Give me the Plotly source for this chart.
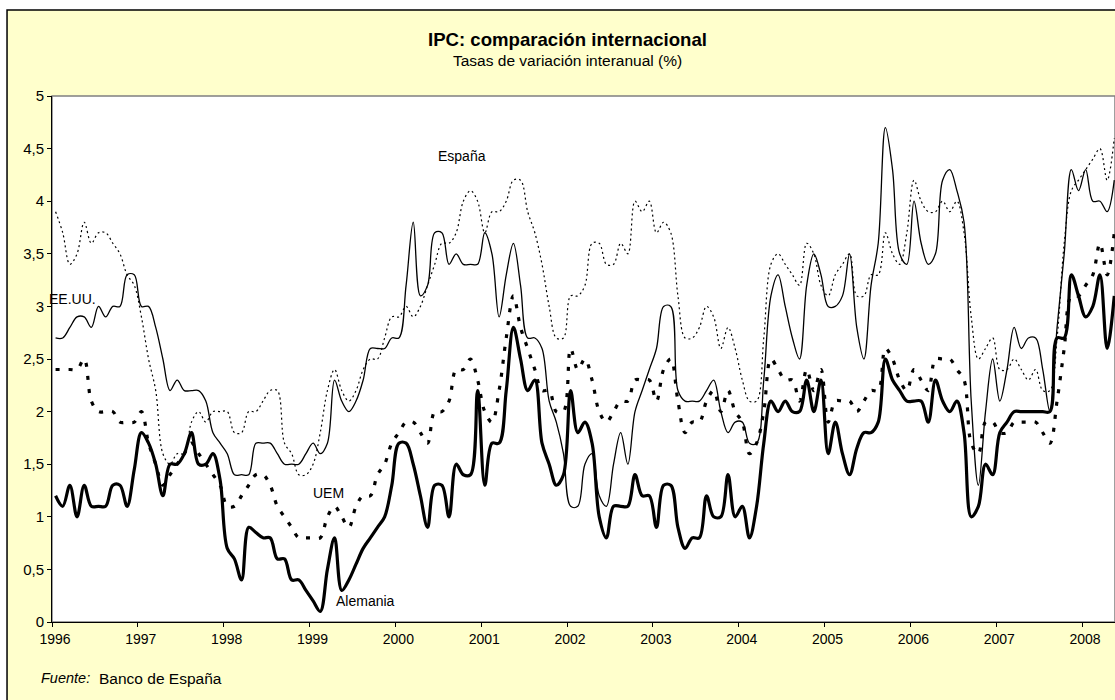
import plotly.graph_objects as go

# meses: enero 1996 .. mayo 2008
anios = list(range(1996, 2009))
meses = [f"{a}-{m:02d}" for a in anios for m in range(1, 13)][:149]
x = list(range(len(meses)))

espana = [
    3.9, 3.7, 3.4, 3.5, 3.8, 3.6, 3.7, 3.7, 3.6, 3.5, 3.3, 3.2,
    2.9, 2.5, 2.2, 1.6, 1.5, 1.6, 1.6, 1.9, 2.0, 1.9, 2.0, 2.0,
    2.0, 1.8, 1.8, 2.0, 2.0, 2.1, 2.2, 2.2, 1.7, 1.6, 1.4, 1.4,
    1.5, 1.8, 2.2, 2.4, 2.2, 2.1, 2.2, 2.4, 2.5, 2.5, 2.7, 2.9,
    2.9, 3.0, 2.9, 3.0, 3.2, 3.4, 3.6, 3.6, 3.7, 4.0, 4.1, 4.0,
    3.7, 3.9, 3.9, 4.0, 4.2, 4.2, 3.9, 3.7, 3.4, 3.0, 2.7, 2.7,
    3.1, 3.1, 3.2, 3.6, 3.6, 3.4, 3.4, 3.6, 3.5, 4.0, 3.9, 4.0,
    3.7, 3.8, 3.7, 3.1, 2.7, 2.7, 2.8, 3.0, 2.9, 2.6, 2.8, 2.6,
    2.3, 2.1, 2.1, 2.7, 3.4, 3.5, 3.4, 3.3, 3.2, 3.6, 3.5, 3.2,
    3.1, 3.3, 3.4, 3.5, 3.1, 3.1, 3.3, 3.3, 3.7, 3.5, 3.4, 3.7,
    4.2, 4.0, 3.9, 3.9, 4.0, 3.9, 4.0, 3.7, 2.9, 2.5, 2.6, 2.7,
    2.4, 2.4, 2.5, 2.4, 2.3, 2.4, 2.2, 2.2, 2.7, 3.6, 4.1, 4.2,
    4.3, 4.4, 4.5, 4.2, 4.6,
]

eeuu = [
    2.7, 2.7, 2.8, 2.9, 2.9, 2.8, 3.0, 2.9, 3.0, 3.0, 3.3, 3.3,
    3.0, 3.0, 2.8, 2.5, 2.2, 2.3, 2.2, 2.2, 2.2, 2.1, 1.8, 1.7,
    1.6, 1.4, 1.4, 1.4, 1.7, 1.7, 1.7, 1.6, 1.5, 1.5, 1.5, 1.6,
    1.7, 1.6, 1.7, 2.3, 2.1, 2.0, 2.1, 2.3, 2.6, 2.6, 2.6, 2.7,
    2.7, 3.2, 3.8, 3.1, 3.2, 3.7, 3.7, 3.4, 3.5, 3.4, 3.4, 3.4,
    3.7, 3.5, 2.9, 3.3, 3.6, 3.2, 2.7, 2.7, 2.6, 2.1, 1.9, 1.6,
    1.1, 1.1, 1.5, 1.6, 1.2, 1.1, 1.5, 1.8, 1.5, 2.0, 2.2, 2.4,
    2.6, 3.0, 3.0, 2.2, 2.1, 2.1, 2.1, 2.2, 2.3, 2.0, 1.8, 1.9,
    1.9, 1.7, 1.7, 2.3, 3.1, 3.3, 3.0, 2.7, 2.5, 3.2, 3.5, 3.3,
    3.0, 3.0, 3.1, 3.5, 2.8, 2.5, 3.2, 3.6, 4.7, 4.3, 3.5, 3.4,
    4.0, 3.6, 3.4, 3.5, 4.2, 4.3, 4.1, 3.8, 2.1, 1.3, 2.0, 2.5,
    2.1, 2.4, 2.8, 2.6, 2.7, 2.7, 2.4, 2.0, 2.8, 3.5, 4.3, 4.1,
    4.3, 4.0, 4.0, 3.9, 4.2,
]

uem = [
    2.4, 2.4, 2.4, 2.4, 2.5, 2.1, 2.0, 2.0, 2.0, 1.9, 1.9, 1.9,
    2.0, 1.7, 1.5, 1.3, 1.4, 1.5, 1.6, 1.7, 1.6, 1.5, 1.4, 1.3,
    1.1, 1.1, 1.2, 1.3, 1.4, 1.4, 1.3, 1.1, 1.0, 0.9, 0.8, 0.8,
    0.8, 0.8, 1.0, 1.1, 1.0, 0.9, 1.1, 1.2, 1.2, 1.4, 1.5, 1.7,
    1.8, 1.9, 1.9, 1.8, 1.7, 2.0, 2.0, 2.1, 2.4, 2.4, 2.5, 2.3,
    2.0, 1.9, 2.2, 2.7, 3.1, 2.8, 2.6, 2.4, 2.2, 2.2, 2.0, 2.0,
    2.6, 2.4, 2.5, 2.3, 2.0, 1.9, 2.0, 2.1, 2.1, 2.3, 2.3, 2.3,
    2.1, 2.4, 2.5, 2.1, 1.8, 1.9, 1.9, 2.1, 2.2, 2.0, 2.2, 2.0,
    1.9, 1.6, 1.7, 2.0, 2.5, 2.4, 2.3, 2.3, 2.1, 2.4, 2.2, 2.4,
    1.9, 2.1, 2.1, 2.1, 2.0, 2.1, 2.2, 2.2, 2.6, 2.5, 2.3, 2.2,
    2.4, 2.3, 2.2, 2.5, 2.5, 2.5, 2.4, 2.3, 1.7, 1.6, 1.9, 1.9,
    1.8, 1.8, 1.9, 1.9, 1.9, 1.9, 1.8, 1.7, 2.1, 2.6, 3.1, 3.1,
    3.2, 3.3, 3.6, 3.3, 3.7,
]

alemania = [
    1.2, 1.1, 1.3, 1.0, 1.3, 1.1, 1.1, 1.1, 1.3, 1.3, 1.1, 1.45,
    1.8, 1.7, 1.5, 1.2, 1.5, 1.5, 1.6, 1.8, 1.5, 1.5, 1.6, 1.35,
    0.7, 0.6, 0.4, 0.9, 0.85, 0.8, 0.8, 0.6, 0.6, 0.4, 0.4, 0.3,
    0.2, 0.1, 0.5, 0.8, 0.3, 0.4, 0.55, 0.7, 0.8, 0.9, 1.0, 1.3,
    1.7, 1.7, 1.5, 1.2, 0.9, 1.3, 1.3, 1.0, 1.5, 1.4, 1.4, 2.2,
    1.3, 1.7, 1.7, 2.2, 2.8, 2.5, 2.2, 2.3, 1.7, 1.5, 1.3, 1.4,
    2.2, 1.8, 1.9, 1.7, 1.0, 0.8, 1.1, 1.1, 1.1, 1.4, 1.2, 1.2,
    0.9, 1.3, 1.3, 0.9, 0.7, 0.8, 0.8, 1.2, 1.0, 1.0, 1.4, 1.0,
    1.1, 0.8, 1.1, 1.7, 2.1, 2.0, 2.1, 2.0, 2.0, 2.3, 2.0, 2.3,
    1.6, 1.9, 1.6, 1.4, 1.65, 1.8, 1.8, 1.9, 2.5, 2.3, 2.2, 2.1,
    2.1, 2.1, 1.9, 2.3, 2.1, 2.0, 2.1, 1.8, 1.0, 1.1, 1.5, 1.4,
    1.8, 1.9, 2.0, 2.0, 2.0, 2.0, 2.0, 2.0, 2.7, 2.7, 3.3, 3.1,
    2.9, 3.0, 3.3, 2.6, 3.1,
]

y_ticks = [0, 0.5, 1, 1.5, 2, 2.5, 3, 3.5, 4, 4.5, 5]
y_labels = ["0", "0,5", "1", "1,5", "2", "2,5", "3", "3,5", "4", "4,5", "5"]
x_ticks = [12 * i - 0.5 for i in range(len(anios))]
x_labels = [str(a) for a in anios]

fuente = "Liberation Sans, Arial, sans-serif"

fig = go.Figure()
fig.add_trace(go.Scatter(x=x, y=espana, name="España", mode="lines",
                         line=dict(color="black", width=1.2, dash="2px,3px",
                                   shape="spline", smoothing=1)))
fig.add_trace(go.Scatter(x=x, y=eeuu, name="EE.UU.", mode="lines",
                         line=dict(color="black", width=1.3,
                                   shape="spline", smoothing=1)))
fig.add_trace(go.Scatter(x=x, y=uem, name="UEM", mode="lines",
                         line=dict(color="black", width=3.2, dash="4px,9px",
                                   shape="spline", smoothing=1)))
fig.add_trace(go.Scatter(x=x, y=alemania, name="Alemania", mode="lines",
                         line=dict(color="black", width=3.2,
                                   shape="spline", smoothing=1)))

# caja amarilla exterior (cortada abajo y a la derecha) y fondo blanco del grafico
fig.add_shape(type="rect", xref="paper", yref="paper",
              x0=-0.0423, x1=1.05, y0=-0.2, y1=1.1635,
              fillcolor="#FFFFCC", line=dict(color="black", width=1.5),
              layer="below")
fig.add_shape(type="rect", xref="paper", yref="paper",
              x0=0, x1=1, y0=0, y1=1,
              fillcolor="white", line=dict(color="#808080", width=1.5),
              layer="below")

etiquetas = [
    ("España", 56.8, 4.43),
    ("EE.UU.", 2.4, 3.07),
    ("UEM", 38.1, 1.23),
    ("Alemania", 43.3, 0.2),
]
for texto, xx, yy in etiquetas:
    fig.add_annotation(x=xx, y=yy, text=texto, showarrow=False,
                       font=dict(size=14, color="black", family=fuente))

fig.add_annotation(xref="paper", yref="paper", x=0.4845, y=1.1065,
                   xanchor="center", yanchor="middle",
                   text="<b>IPC: comparación internacional</b>", showarrow=False,
                   font=dict(size=18.6, color="black", family=fuente))
fig.add_annotation(xref="paper", yref="paper", x=0.4845, y=1.068,
                   xanchor="center", yanchor="middle",
                   text="Tasas de variación interanual (%)", showarrow=False,
                   font=dict(size=15.5, color="black", family=fuente))
fig.add_annotation(xref="paper", yref="paper", x=-0.0122, y=-0.1065,
                   xanchor="left", yanchor="middle",
                   text="<i>Fuente:</i>", showarrow=False,
                   font=dict(size=14.5, color="black", family=fuente))
fig.add_annotation(xref="paper", yref="paper", x=0.0423, y=-0.1065,
                   xanchor="left", yanchor="middle",
                   text="Banco de España", showarrow=False,
                   font=dict(size=15.5, color="black", family=fuente))

fig.update_layout(
    width=1115, height=700,
    margin=dict(l=52, r=0, t=96, b=78),
    paper_bgcolor="white",
    plot_bgcolor="rgba(0,0,0,0)",
    showlegend=False,
    hovermode=False,
    font=dict(family=fuente, size=14, color="black"),
)
fig.update_xaxes(range=[-0.5, 148.1], tickvals=x_ticks, ticktext=x_labels,
                 showgrid=False, zeroline=False, showline=True,
                 linecolor="black", linewidth=1, ticks="outside",
                 ticklen=4, tickcolor="black", tickfont=dict(size=14),
                 ticklabelshift=3)
fig.update_yaxes(range=[0, 5], tickvals=y_ticks, ticktext=y_labels,
                 showgrid=False, zeroline=False, showline=True,
                 linecolor="black", linewidth=1, ticks="outside",
                 ticklen=4, tickcolor="black", tickfont=dict(size=15))

# sin el margen por defecto del body, la figura empieza en (0, 0)
fig.write_html("out.html", config={"displayModeBar": False},
               post_script="document.body.style.margin='0px';")
